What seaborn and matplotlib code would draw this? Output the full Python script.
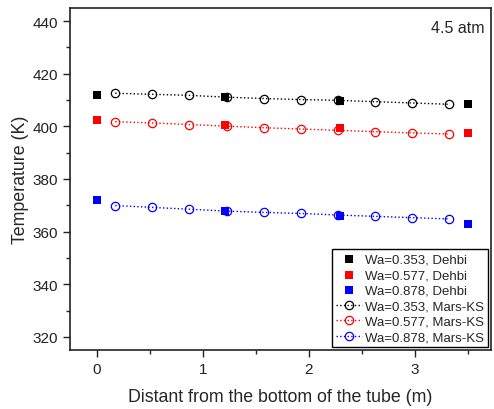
import numpy as np
import pandas as pd
import matplotlib
matplotlib.use('Agg')
import matplotlib.pyplot as plt
import seaborn as sns

# Dehbi experimental data (squares)
dehbi_x = [0.0, 1.21, 2.3, 3.5]
dehbi_353 = [412.0, 411.0, 409.7, 408.7]
dehbi_577 = [402.3, 400.4, 399.4, 397.6]
dehbi_878 = [371.9, 367.9, 366.1, 362.7]

# Mars-KS results (open circles)
mars_x = [0.175, 0.525, 0.875, 1.225, 1.575, 1.925, 2.275, 2.625, 2.975, 3.325]
mars_353 = [412.6, 412.2, 411.8, 411.1, 410.6, 410.2, 409.9, 409.4, 408.9, 408.4]
mars_577 = [401.8, 401.3, 400.7, 400.1, 399.5, 399.0, 398.5, 398.0, 397.5, 397.1]
mars_878 = [369.9, 369.2, 368.5, 367.8, 367.3, 366.9, 366.3, 365.8, 365.3, 364.8]

colors = ['black', 'red', 'blue']
wa_labels = ['0.353', '0.577', '0.878']

sns.set_theme(style="ticks")
plt.rcParams['font.family'] = ['Liberation Sans', 'DejaVu Sans']

fig = plt.figure(figsize=(4.94, 4.10), dpi=100)
ax = fig.add_axes([0.142, 0.144, 0.852, 0.834])

for vals, c, wa in zip([dehbi_353, dehbi_577, dehbi_878], colors, wa_labels):
    df = pd.DataFrame({'x': dehbi_x, 'T': vals})
    sns.scatterplot(data=df, x='x', y='T', ax=ax, marker='s', s=34, color=c,
                    edgecolor=c, linewidth=0, label=f'Wa={wa}, Dehbi', zorder=2)

for vals, c, wa in zip([mars_353, mars_577, mars_878], colors, wa_labels):
    df = pd.DataFrame({'x': mars_x, 'T': vals})
    sns.lineplot(data=df, x='x', y='T', ax=ax, color=c, linestyle=':', linewidth=1,
                 marker='o', markersize=6, markerfacecolor='none', markeredgecolor=c,
                 markeredgewidth=0.9, label=f'Wa={wa}, Mars-KS', zorder=3)

ax.set_xlim(-0.25, 3.72)
ax.set_ylim(315, 445)
ax.set_xticks([0, 1, 2, 3])
ax.set_xticks([0.5, 1.5, 2.5, 3.5], minor=True)
ax.set_yticks([320, 340, 360, 380, 400, 420, 440])
ax.set_yticks([330, 350, 370, 390, 410, 430], minor=True)
ax.tick_params(axis='both', which='major', direction='out', length=5, width=1, labelsize=11, colors='#222222')
ax.tick_params(axis='both', which='minor', direction='out', length=3, width=1)
for s in ax.spines.values():
    s.set_linewidth(1.2)
    s.set_color('#222222')

ax.set_xlabel('Distant from the bottom of the tube (m)', fontsize=12.8, labelpad=9)
ax.set_ylabel('Temperature (K)', fontsize=12.8, labelpad=3)
ax.text(0.985, 0.965, '4.5 atm', transform=ax.transAxes, ha='right', va='top', fontsize=11.5)

leg = ax.legend(loc='lower right', fontsize=9.5, frameon=True, fancybox=False,
                edgecolor='black', framealpha=1, handlelength=2.0, handletextpad=0.25,
                labelspacing=0.25, borderpad=0.3, borderaxespad=0.2)
leg.get_frame().set_linewidth(1)

fig.savefig('out.png', dpi=100)
